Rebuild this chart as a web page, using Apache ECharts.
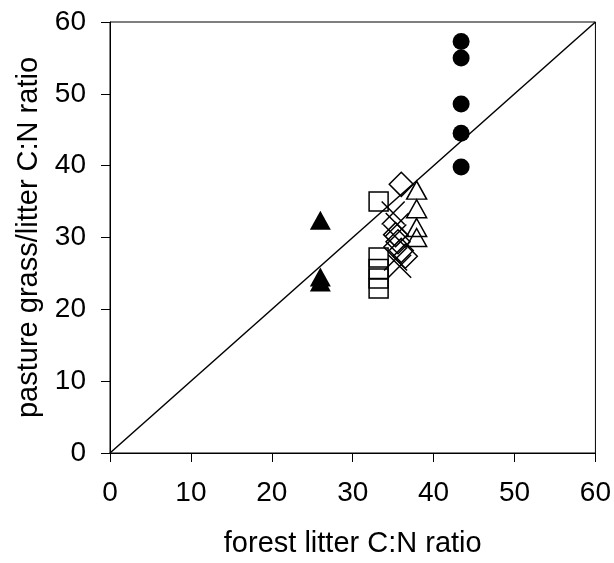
<!DOCTYPE html>
<html>
<head>
<meta charset="utf-8">
<script src="https://cdn.jsdelivr.net/npm/echarts@6/dist/echarts.min.js"></script>
<style>html,body{margin:0;padding:0;background:#fff}#c{width:614px;height:563px}</style>
</head>
<body>
<div id="c"></div>
<script>
var xTicks = [0, 10, 20, 30, 40, 50, 60];
var yTicks = [0, 10, 20, 30, 40, 50, 60];
var circles = [[43.4, 57.3], [43.4, 55.0], [43.4, 48.6], [43.4, 44.5], [43.4, 39.8]];
var filledTriangles = [[26.0, 32.4], [26.0, 24.5], [26.0, 23.8]];
var squares = [[33.2, 35.0], [33.2, 27.2], [33.2, 25.6], [33.2, 24.3], [33.2, 22.9]];
var openTriangles = [[37.9, 36.6], [37.9, 34.0], [37.9, 31.4], [37.9, 30.0]];
var diamonds = [[36.0, 37.4], [35.3, 30.4], [35.6, 29.4], [36.0, 28.2], [36.5, 27.4]];
var crosses = [[35.0, 33.4], [35.5, 31.8], [35.2, 30.2], [35.3, 27.0], [35.8, 26.0]];
var oneToOne = [[0, 0], [60, 60]];

var chart = echarts.init(document.getElementById('c'));
var font = 'Liberation Sans, Arial, sans-serif';
var axisCommon = {
  min: 0, max: 60, interval: 10,
  axisLine: {show: true, lineStyle: {color: '#000', width: 1}},
  axisTick: {show: true, inside: false, length: 9, lineStyle: {color: '#000', width: 1}},
  splitLine: {show: false},
  nameLocation: 'middle',
  nameTextStyle: {fontFamily: font, fontSize: 29, color: '#000'}
};
var mk = function (extra) {
  return Object.assign({type: 'scatter', z: 3}, extra);
};
chart.setOption({
  animation: false,
  backgroundColor: '#fff',
  grid: {left: 110, right: 18, top: 22, bottom: 110, show: true, borderColor: '#000', borderWidth: 1, backgroundColor: 'transparent'},
  xAxis: Object.assign({}, axisCommon, {
    type: 'value', name: 'forest litter C:N ratio', nameGap: 76,
    axisLabel: {fontFamily: font, fontSize: 28, color: '#000', margin: 26, formatter: function (v) { return xTicks.indexOf(v) >= 0 ? String(v) : ''; }}
  }),
  yAxis: Object.assign({}, axisCommon, {
    type: 'value', name: 'pasture grass/litter C:N ratio', nameGap: 64,
    axisLabel: {fontFamily: font, fontSize: 28, color: '#000', margin: 24, formatter: function (v) { return yTicks.indexOf(v) >= 0 ? String(v) : ''; }}
  }),
  series: [
    {type: 'line', data: oneToOne, symbol: 'none', lineStyle: {color: '#000', width: 1.5}, z: 1},
    mk({data: circles, symbol: 'circle', symbolSize: 17, itemStyle: {color: '#000', opacity: 1}}),
    mk({data: filledTriangles, symbol: 'triangle', symbolSize: [21, 19], itemStyle: {color: '#000', opacity: 1}}),
    mk({data: squares, symbol: 'rect', symbolSize: 19, itemStyle: {color: 'rgba(0,0,0,0)', borderColor: '#000', borderWidth: 1.5, opacity: 1}}),
    mk({data: openTriangles, symbol: 'triangle', symbolSize: [20, 18], itemStyle: {color: 'rgba(0,0,0,0)', borderColor: '#000', borderWidth: 1.5, opacity: 1}}),
    mk({data: diamonds, symbol: 'diamond', symbolSize: [24, 24], itemStyle: {color: 'rgba(0,0,0,0)', borderColor: '#000', borderWidth: 1.5, opacity: 1}}),
    mk({data: crosses, symbol: 'path://M0,0L10,10M10,0L0,10', symbolSize: 23, itemStyle: {color: 'rgba(0,0,0,0)', borderColor: '#000', borderWidth: 1.5, opacity: 1}})
  ]
});
</script>
</body>
</html>
